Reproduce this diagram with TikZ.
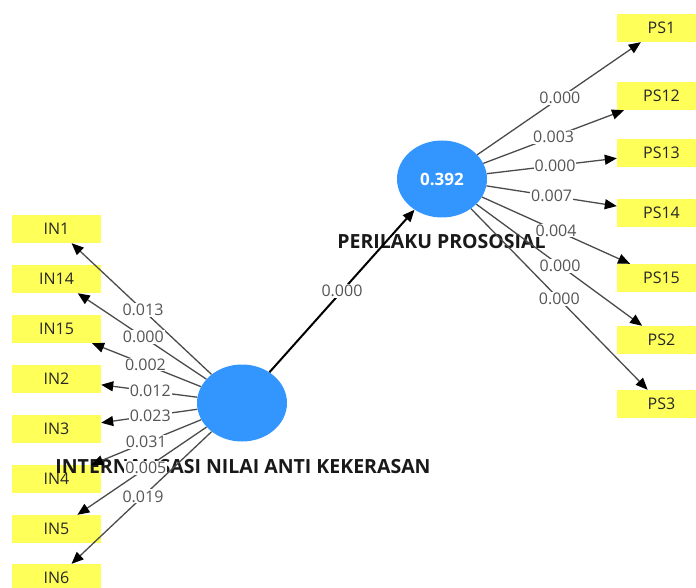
\documentclass[tikz,border=0pt]{standalone}
\usepackage{fontspec}
\setmainfont{Open Sans}
\usetikzlibrary{shapes.geometric,arrows.meta}
\definecolor{lvblue}{RGB}{51,150,255}
\definecolor{mvyellow}{RGB}{255,255,90}
\definecolor{lbl}{RGB}{85,85,85}
\definecolor{edgegray}{RGB}{75,75,75}
\begin{document}
\begin{tikzpicture}[x=1pt,y=-1pt,
 lv/.style={ellipse,fill=lvblue,minimum width=90pt,minimum height=77pt,inner sep=0pt},
 mv/.style={rectangle,fill=mvyellow,minimum width=89pt,minimum height=28pt,inner sep=0pt,font=\fontsize{16}{18}\selectfont,text=black!85},
 lvname/.style={font=\fontsize{19.5}{21}\selectfont\bfseries,text=black!90,inner sep=0pt},
 ld/.style={draw=edgegray,line width=1.3pt,-{Triangle[length=12pt,width=10pt,color=black]}},
 cd/.style={draw=black,line width=2pt,-{Triangle[length=12pt,width=10pt]}},
 wt/.style={fill=white,inner sep=1pt,font=\fontsize{16}{18}\selectfont,text=lbl}]
\useasboundingbox (0,0) rectangle (696,588);
% indicator boxes left
\node[mv] (in1) at (56.5,229) {IN1};
\node[mv] (in14) at (56.5,279) {IN14};
\node[mv] (in15) at (56.5,329) {IN15};
\node[mv] (in2) at (56.5,379) {IN2};
\node[mv] (in3) at (56.5,429) {IN3};
\node[mv] (in4) at (56.5,479) {IN4};
\node[mv] (in5) at (56.5,529) {IN5};
\node[mv] (in6) at (56.5,578) {IN6};
% indicator boxes right
\node[mv] (ps1) at (661.5,28) {PS1};
\node[mv] (ps12) at (661.5,96) {PS12};
\node[mv] (ps13) at (661.5,153) {PS13};
\node[mv] (ps14) at (661.5,213) {PS14};
\node[mv] (ps15) at (661.5,278) {PS15};
\node[mv] (ps2) at (661.5,340) {PS2};
\node[mv] (ps3) at (661.5,404) {PS3};
% latent variables
\node[lv] (int) at (242,403) {};
\node[lv,font=\fontsize{17}{19}\selectfont\bfseries,text=white] (per) at (442,179) {0.392};
\node[lvname] (intname) at (243,467) {INTERNALISASI NILAI ANTI KEKERASAN};
\node[lvname] (pername) at (441.5,242) {PERILAKU PROSOSIAL};
% left loadings
\draw[ld] (int) -- node[wt,pos=.49]{0.013} (in1);
\draw[ld] (int) -- node[wt,pos=.49]{0.000} (in14);
\draw[ld] (int) -- node[wt,pos=.51]{0.002} (in15);
\draw[ld] (int) -- node[wt,pos=.49]{0.012} (in2);
\draw[ld] (int) -- node[wt,pos=.49]{0.023} (in3);
\draw[ld] (int) -- node[wt,pos=.50]{0.031} (in4);
\draw[ld] (int) -- node[wt,pos=.47]{0.005} (in5);
\draw[ld] (int) -- node[wt,pos=.49]{0.019} (in6);
% right loadings
\draw[ld] (per) -- node[wt,pos=.505]{0.000} (ps1);
\draw[ld] (per) -- node[wt,pos=.50]{0.003} (ps12);
\draw[ld] (per) -- node[wt,pos=.525]{0.000} (ps13);
\draw[ld] (per) -- node[wt,pos=.50]{0.007} (ps14);
\draw[ld] (per) -- node[wt,pos=.50]{0.004} (ps15);
\draw[ld] (per) -- node[wt,pos=.505]{0.000} (ps2);
\draw[ld] (per) -- node[wt,pos=.50]{0.000} (ps3);
% structural path
\draw[cd] (int) -- node[wt,pos=.5]{0.000} (per);
\end{tikzpicture}
\end{document}
